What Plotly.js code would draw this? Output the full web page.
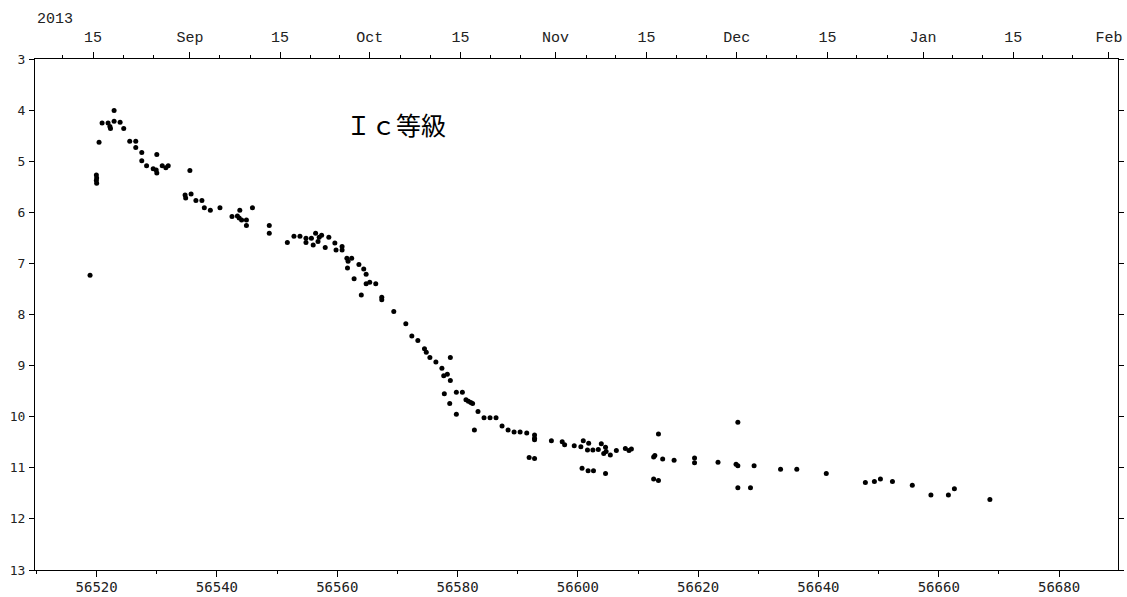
<!DOCTYPE html>
<html><head><meta charset="utf-8">
<script src="https://cdn.plot.ly/plotly-3.0.1.min.js"></script>
<style>body{margin:0;background:#fff}</style>
</head><body>
<div id="chart" style="width:1127px;height:597px"></div>
<script>
const mjd = [
56518.9,56519.95,56520.0,56519.95,56520.0,56520.4,56520.9,56521.9,56522.2,56522.3,
56522.9,56522.9,56523.9,56524.5,56525.5,56526.5,56526.5,56527.5,56527.5,56528.3,
56529.4,56529.9,56530.0,56530.0,56530.9,56531.5,56531.9,56534.7,56534.8,56535.5,
56535.7,56536.5,56537.5,56537.9,56538.9,56540.5,56542.5,56543.4,56543.8,56543.7,
56544.1,56544.9,56544.9,56545.9,56548.7,56548.7,56551.7,56552.8,56553.8,56554.8,
56554.8,56555.7,56556.0,56556.4,56556.8,56557.0,56557.4,56558.0,56558.6,56559.6,
56559.8,56560.8,56560.8,56561.6,56561.7,56561.8,56562.4,56562.8,56563.6,56564.0,
56564.4,56564.8,56564.8,56565.4,56566.4,56567.4,56567.4,56569.4,56571.4,56572.4,
56573.4,56574.5,56574.8,56575.4,56576.4,56577.4,56577.7,56577.8,56578.3,56578.7,
56578.8,56578.8,56579.8,56579.8,56580.8,56581.4,56581.8,56582.2,56582.5,56582.8,
56583.4,56584.4,56585.4,56586.4,56587.4,56588.4,56589.4,56590.4,56591.5,56591.9,
56592.8,56592.8,56592.8,56592.8,56595.6,56597.4,56597.8,56599.4,56600.5,56600.7,
56600.9,56601.6,56601.7,56601.8,56602.5,56602.6,56603.4,56603.9,56604.3,56604.6,
56604.6,56604.7,56605.4,56606.4,56607.9,56608.5,56608.9,56612.6,56612.6,56612.8,
56613.4,56613.4,56614.1,56616.0,56619.4,56619.4,56623.3,56626.3,56626.6,56626.6,
56626.6,56628.7,56629.3,56633.7,56636.4,56641.3,56647.8,56649.3,56650.3,56652.3,
56655.6,56658.7,56661.6,56662.6,56668.5
];
const icMag = [
7.23,5.27,5.33,5.38,5.43,4.63,4.25,4.25,4.32,4.36,
4.01,4.22,4.24,4.36,4.61,4.61,4.73,4.83,4.99,5.09,
5.15,5.17,4.87,5.23,5.09,5.13,5.09,5.66,5.72,5.18,
5.64,5.77,5.77,5.91,5.96,5.91,6.08,6.07,5.96,6.11,
6.15,6.15,6.26,5.91,6.26,6.41,6.59,6.47,6.47,6.51,
6.59,6.51,6.64,6.41,6.57,6.49,6.45,6.69,6.49,6.60,
6.74,6.67,6.74,6.90,7.09,6.96,6.90,7.30,7.02,7.62,
7.11,7.21,7.40,7.37,7.40,7.66,7.71,7.94,8.18,8.42,
8.51,8.67,8.74,8.84,8.93,9.05,9.20,9.55,9.17,9.74,
8.84,9.29,9.52,9.95,9.52,9.67,9.70,9.72,9.74,10.26,
9.90,10.02,10.02,10.02,10.18,10.26,10.30,10.30,10.32,10.80,
10.36,10.42,10.45,10.82,10.47,10.49,10.55,10.57,10.59,11.01,
10.47,10.65,11.06,10.52,10.65,11.06,10.64,10.53,10.72,10.60,
11.11,10.68,10.75,10.66,10.62,10.66,10.63,10.79,11.22,10.76,
10.34,11.25,10.83,10.85,10.81,10.90,10.89,10.93,10.11,10.96,
11.39,11.39,10.96,11.03,11.03,11.11,11.29,11.27,11.22,11.27,
11.34,11.53,11.53,11.41,11.62
];

// Bottom axis (MJD)
const bottomTickVals = [56520,56540,56560,56580,56600,56620,56640,56660,56680];
const bottomTickText = ['56520','56540','56560','56580','56600','56620','56640','56660','56680'];
const bottomMinorVals = [56510,56530,56550,56570,56590,56610,56630,56650,56670,56690];
// Top axis (calendar dates, positions in MJD as drawn)
const topTickVals = [56519.4,56535.5,56550.5,56565.4,56580.5,56596.3,56611.4,56626.4,56641.5,56657.4,56672.4,56688.3];
const topTickText = ['15','Sep','15','Oct','15','Nov','15','Dec','15','Jan','15','Feb'];
const topMinorVals = [56514.4,56524.4,56529.4,56540.5,56545.5,56555.5,56560.4,56570.5,56575.5,56585.5,56590.4,
  56601.4,56606.3,56616.4,56621.4,56631.4,56636.4,56646.4,56651.5,56662.3,56667.3,56677.3,56682.2];
const yTickVals = [3,4,5,6,7,8,9,10,11,12,13];
const xRange = [56509.75, 56689.8];
const yRange = [13, 3];
const labelText = 'Ｉｃ等級';
const yearText = '2013';

const trace = {
  x: mjd, y: icMag, type: 'scatter', mode: 'markers',
  marker: {color: '#000', size: 5}, hoverinfo: 'skip', showlegend: false
};
const traceTop = {
  x: [xRange[0]], y: [yRange[0]], xaxis: 'x2', yaxis: 'y', type: 'scatter', mode: 'markers',
  marker: {opacity: 0, size: 1}, hoverinfo: 'skip', showlegend: false
};

const layout = {
  width: 1127, height: 597,
  paper_bgcolor: '#fff', plot_bgcolor: '#fff',
  margin: {l: 35, r: 9, t: 59, b: 27, pad: 0},
  xaxis: {
    range: xRange, tickmode: 'array', tickvals: bottomTickVals, ticktext: bottomTickText,
    ticks: 'outside', ticklen: 6, tickwidth: 1, tickcolor: '#000',
    showline: true, linecolor: '#000', linewidth: 1, mirror: false,
    showgrid: false, zeroline: false, ticklabelstandoff: -2,
    tickfont: {family: 'DejaVu Sans Mono, monospace', size: 14, color: '#222'},
    minor: {tickmode: 'array', tickvals: bottomMinorVals, ticks: 'outside', ticklen: 3, tickcolor: '#000', showgrid: false}
  },
  xaxis2: {
    overlaying: 'x', side: 'top', anchor: 'y', range: xRange,
    tickmode: 'array', tickvals: topTickVals, ticktext: topTickText,
    ticks: 'outside', ticklen: 6, tickwidth: 1, tickcolor: '#000',
    showline: true, linecolor: '#000', linewidth: 1,
    showgrid: false, zeroline: false, ticklabelstandoff: 4,
    tickfont: {family: 'Liberation Mono, Courier New, monospace', size: 15, color: '#222'},
    minor: {tickmode: 'array', tickvals: topMinorVals, ticks: 'outside', ticklen: 3, tickcolor: '#000', showgrid: false}
  },
  yaxis: {
    range: yRange, tickmode: 'array', tickvals: yTickVals,
    ticks: 'outside', ticklen: 5, tickwidth: 1, tickcolor: '#000',
    showline: true, linecolor: '#000', linewidth: 1, mirror: 'ticks',
    showgrid: false, zeroline: false, ticklabelstandoff: 1,
    tickfont: {family: 'DejaVu Sans Mono, monospace', size: 13, color: '#222'}
  },
  annotations: [
    {text: labelText, xref: 'paper', yref: 'paper', x: 0.333, y: 0.873,
     xanchor: 'center', yanchor: 'middle', showarrow: false,
     font: {family: 'Noto Sans CJK JP, sans-serif', size: 25, color: '#000'}},
    {text: yearText, xref: 'paper', yref: 'paper', x: 0.0, y: 1.0, yshift: 40,
     xanchor: 'left', yanchor: 'middle', showarrow: false,
     font: {family: 'Liberation Mono, Courier New, monospace', size: 15, color: '#222'}}
  ]
};

Plotly.newPlot('chart', [trace, traceTop], layout, {displayModeBar: false, staticPlot: true});
</script>
</body></html>
